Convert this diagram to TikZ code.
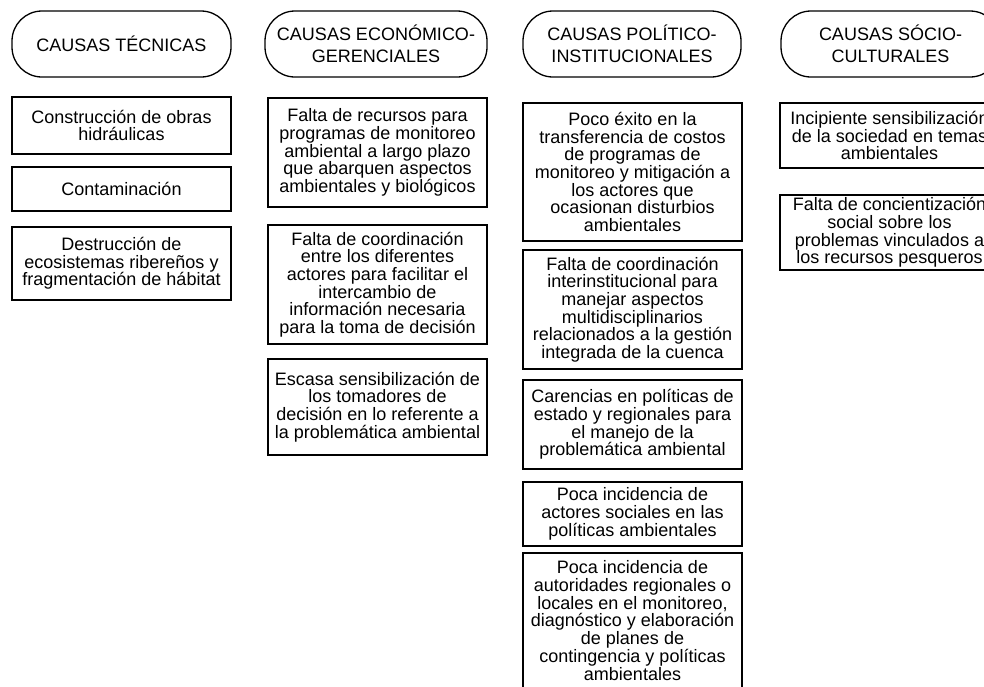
\documentclass[tikz,border=0pt]{standalone}
\usepackage{fontspec}
\setmainfont{Liberation Sans}
\begin{document}
\begin{tikzpicture}[x=1pt,y=-1pt,
  header/.style={draw, line width=1.3pt, rounded corners=30pt, minimum height=66pt, inner sep=0pt, align=center, font=\fontsize{18}{21.5}\selectfont},
  cbox/.style={draw, line width=1.3pt, minimum width=219pt, inner sep=0pt, align=center, font=\fontsize{18}{17.7}\selectfont}]
\clip (0,0) rectangle (984,686);
\fill[white] (0,0) rectangle (984,686);
% headers
\node[header, minimum width=219pt] (h1) at (121.5,44) {CAUSAS TÉCNICAS};
\node[header, minimum width=222pt] (h2) at (376,44) {CAUSAS ECONÓMICO-\\GERENCIALES};
\node[header, minimum width=218pt] (h3) at (632,44) {CAUSAS POLÍTICO-\\INSTITUCIONALES};
\node[header, minimum width=219pt] (h4) at (890.5,44) {CAUSAS SÓCIO-\\CULTURALES};
% column 1
\node[cbox, minimum height=57pt] (t1) at (121.5,125.5) {Construcción de obras\\hidráulicas};
\node[cbox, minimum height=44pt] (t2) at (121.5,189) {Contaminación};
\node[cbox, minimum height=73pt] (t3) at (121.5,263.5) {Destrucción de\\ecosistemas ribereños y\\fragmentación de hábitat};
% column 2
\node[cbox, minimum height=109pt] (e1) at (377.5,152.5) {Falta de recursos para\\programas de monitoreo\\ambiental a largo plazo\\que abarquen aspectos\\ambientales y biológicos};
\node[cbox, minimum height=119pt] (e2) at (377.5,284.5) {Falta de coordinación\\entre los diferentes\\actores para facilitar el\\intercambio de\\información necesaria\\para la toma de decisión};
\node[cbox, minimum height=96pt] (e3) at (377.5,407) {Escasa sensibilización de\\los tomadores de\\decisión en lo referente a\\la problemática ambiental};
% column 3
\node[cbox, minimum height=138pt] (p1) at (632.5,172) {Poco éxito en la\\transferencia de costos\\de programas de\\monitoreo y mitigación a\\los actores que\\ocasionan disturbios\\ambientales};
\node[cbox, minimum height=119pt] (p2) at (632.5,309.5) {Falta de coordinación\\interinstitucional para\\manejar aspectos\\multidisciplinarios\\relacionados a la gestión\\integrada de la cuenca};
\node[cbox, minimum height=89pt] (p3) at (632.5,424.5) {Carencias en políticas de\\estado y regionales para\\el manejo de la\\problemática ambiental};
\node[cbox, minimum height=64pt] (p4) at (632.5,514) {Poca incidencia de\\actores sociales en las\\políticas ambientales};
\node[cbox, minimum height=135pt] (p5) at (632.5,620.5) {Poca incidencia de\\autoridades regionales o\\locales en el monitoreo,\\diagnóstico y elaboración\\de planes de\\contingencia y políticas\\ambientales};
% column 4
\node[cbox, minimum height=65pt] (s1) at (889.5,135.5) {Incipiente sensibilización\\de la sociedad en temas\\ambientales};
\node[cbox, minimum height=75pt] (s2) at (889.5,232.5) {Falta de concientización\\social sobre los\\problemas vinculados a\\los recursos pesqueros};
\end{tikzpicture}
\end{document}
